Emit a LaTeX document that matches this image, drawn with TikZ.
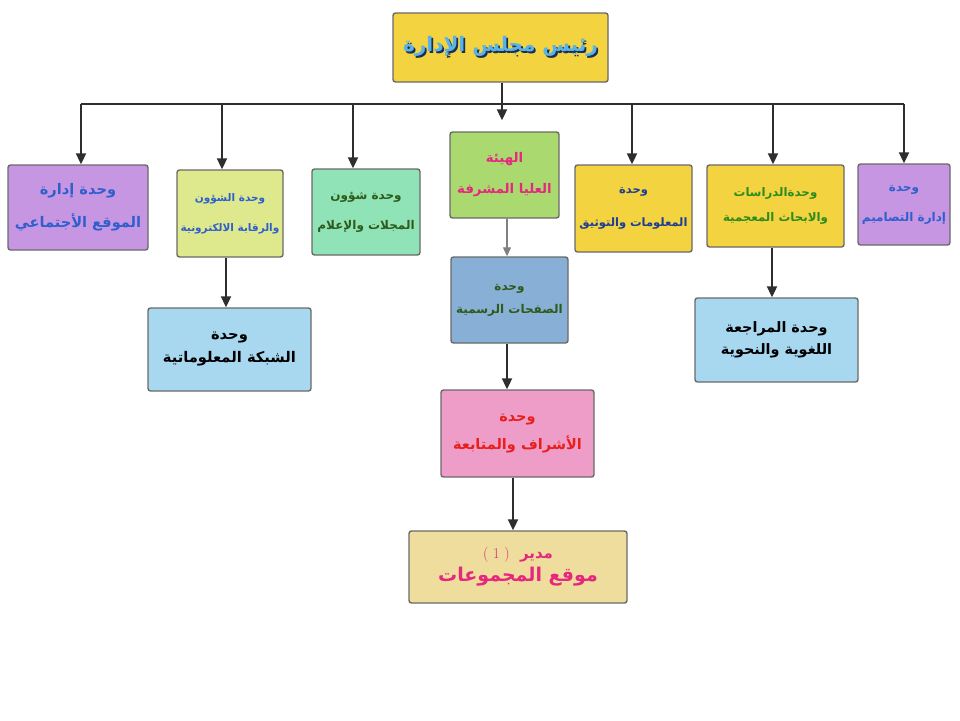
\documentclass[tikz,border=0pt]{standalone}
\usepackage{fontspec}
\TeXXeTstate=1
\newfontfamily\arabicfont[Script=Arabic]{DejaVu Sans}
\usetikzlibrary{arrows.meta}
\newcommand\artx[1]{\beginR #1\endR}
\definecolor{boxgray}{HTML}{6A6A6A}
\definecolor{arrgray}{HTML}{2E2E2E}
\definecolor{cgold}{HTML}{F3D340}
\definecolor{clilac}{HTML}{C796E2}
\definecolor{clime}{HTML}{DDE98C}
\definecolor{cmint}{HTML}{8FE3B6}
\definecolor{cgreen}{HTML}{A9D96F}
\definecolor{csky}{HTML}{A8D7F0}
\definecolor{csteel}{HTML}{88AFD5}
\definecolor{cpink}{HTML}{EE9DC9}
\definecolor{cbeige}{HTML}{EEDD9C}
\definecolor{tblue}{HTML}{2F5FCC}
\definecolor{tnavy}{HTML}{1D3E94}
\definecolor{tdkgreen}{HTML}{2E5A1C}
\definecolor{tgreen}{HTML}{2E8B1E}
\definecolor{tmagenta}{HTML}{E5287E}
\definecolor{tred}{HTML}{E8201C}
\definecolor{tlight}{HTML}{5AB3E6}
\definecolor{tshadow}{HTML}{1B2F55}
\tikzset{
  box/.style={draw=boxgray, line width=1.4pt, rounded corners=2.5pt, align=center,
    inner sep=2pt},
  fs/.style 2 args={font=\arabicfont\bfseries\fontsize{#1}{#2}\selectfont},
  arr/.style={draw=arrgray, line width=2pt, -{Triangle[width=10pt,length=11pt]}},
  thinarr/.style={draw=gray, line width=1.2pt, -{Triangle[width=8pt,length=9pt]}},
  bus/.style={draw=arrgray, line width=2pt}
}
\begin{document}
\begin{tikzpicture}[x=1pt,y=-1pt]
\useasboundingbox (0,0) rectangle (960,720);
\fill[white] (0,0) rectangle (960,720);
% top
\node[box, fill=cgold, minimum width=215pt, minimum height=69pt,
  font=\arabicfont\bfseries\fontsize{20}{24}\selectfont] (top) at (500.5,47.5)
  {\rlap{\hspace{1.8pt}\raisebox{-1.8pt}{\color{tshadow}\artx{رئيس مجلس الإدارة}}}\color{tlight}\artx{رئيس مجلس الإدارة}};
% first row
\node[box, fill=clilac, text=tblue, minimum width=140pt, minimum height=85pt, fs={14.6}{33}] (b1) at (78,207.5)
  {\artx{وحدة إدارة}\\\artx{الموقع الأجتماعي}};
\node[box, fill=clime, text=tblue, minimum width=106pt, minimum height=87pt, fs={10.5}{30}] (b2) at (230,213.5)
  {\artx{وحدة الشؤون}\\\artx{والرقابة الالكترونية}};
\node[box, fill=cmint, text=tdkgreen, minimum width=108pt, minimum height=86pt, fs={12}{30}] (b3) at (366,212)
  {\artx{وحدة شؤون}\\\artx{المجلات والإعلام}};
\node[box, fill=cgreen, text=tmagenta, minimum width=109pt, minimum height=86pt, fs={13.3}{31}] (haya) at (504.5,175)
  {\artx{الهيئة}\\\artx{العليا المشرفة}};
\node[box, fill=cgold, text=tnavy, minimum width=117pt, minimum height=87pt, fs={11.5}{33}] (b5) at (633.5,208.5)
  {\artx{وحدة}\\\artx{المعلومات والتوثيق}};
\node[box, fill=cgold, text=tgreen, minimum width=137pt, minimum height=82pt, fs={11.8}{25}] (b6) at (775.5,206)
  {\artx{وحدةالدراسات}\\\artx{والابحاث المعجمية}};
\node[box, fill=clilac, text=tblue, minimum width=92pt, minimum height=81pt, fs={12}{30}] (b7) at (904,204.5)
  {\artx{وحدة}\\\artx{إدارة التصاميم}};
% lower boxes
\node[box, fill=csky, text=black, minimum width=163pt, minimum height=83pt, fs={14.7}{23}] (shabaka) at (229.5,349.5)
  {\artx{وحدة}\\\artx{الشبكة المعلوماتية}};
\node[box, fill=csky, text=black, minimum width=163pt, minimum height=84pt, fs={14.4}{22}] (muraja) at (776.5,340)
  {\artx{وحدة المراجعة}\\\artx{اللغوية والنحوية}};
\node[box, fill=csteel, text=tdkgreen, minimum width=117pt, minimum height=86pt, fs={12}{23}] (safahat) at (509.5,300)
  {\artx{وحدة}\\\artx{الصفحات الرسمية}};
\node[box, fill=cpink, text=tred, minimum width=153pt, minimum height=87pt, fs={14.5}{28}] (ishraf) at (517.5,433.5)
  {\artx{وحدة}\\\artx{الأشراف والمتابعة}};
\node[box, fill=cbeige, text=tmagenta, minimum width=218pt, minimum height=72pt,
  font=\arabicfont\bfseries\fontsize{19}{23}\selectfont] (mudir) at (518,567)
  {{\fontsize{15}{18}\selectfont\beginR مدير \ {\rmfamily\mdseries\fontsize{15}{18}\selectfont\beginL( 1 )\endL}\endR}\\\artx{موقع المجموعات}};
% bus
\coordinate (busL) at (81,104);
\coordinate (busR) at (904,104);
\coordinate (d2) at (222,104);
\coordinate (d3) at (353,104);
\coordinate (dtop) at (502,104);
\coordinate (d5) at (632,104);
\coordinate (d6) at (773,104);
\coordinate (xs) at (507,0);
\coordinate (xi) at (513,0);
\coordinate (xsh) at (226,0);
\coordinate (xmu) at (772,0);
\draw[bus] (busL) -- (busR);
\draw[arr, shorten >=11pt] (top.south -| dtop) -- (haya.north -| dtop);
\draw[arr] (busL) -- (busL |- b1.north);
\draw[arr] (d2) -- (d2 |- b2.north);
\draw[arr] (d3) -- (d3 |- b3.north);
\draw[arr] (d5) -- (d5 |- b5.north);
\draw[arr] (d6) -- (d6 |- b6.north);
\draw[arr] (busR) -- (busR |- b7.north);
\draw[arr] (b2.south -| xsh) -- (shabaka.north -| xsh);
\draw[arr] (b6.south -| xmu) -- (muraja.north -| xmu);
\draw[thinarr] (haya.south -| xs) -- (safahat.north -| xs);
\draw[arr] (safahat.south -| xs) -- (ishraf.north -| xs);
\draw[arr] (ishraf.south -| xi) -- (mudir.north -| xi);
\end{tikzpicture}
\end{document}
